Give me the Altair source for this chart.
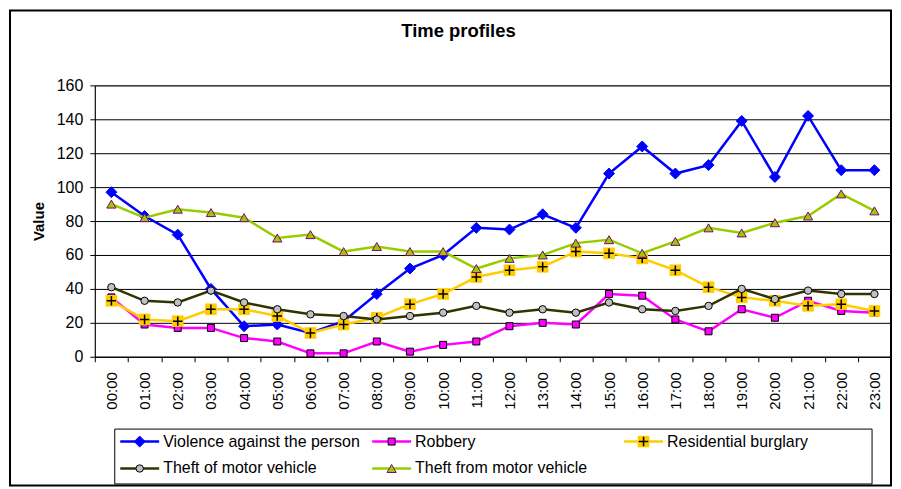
import altair as alt
import pandas as pd

hours = ["00:00", "01:00", "02:00", "03:00", "04:00", "05:00", "06:00", "07:00",
         "08:00", "09:00", "10:00", "11:00", "12:00", "13:00", "14:00", "15:00",
         "16:00", "17:00", "18:00", "19:00", "20:00", "21:00", "22:00", "23:00"]

series_names = ["Violence against the person", "Robbery", "Residential burglary",
                "Theft of motor vehicle", "Theft from motor vehicle"]

violence = [97, 83, 72, 40, 18, 19, 14, 21, 37, 52, 60, 76, 75, 84, 76, 108, 124, 108, 113, 139, 106, 142, 110, 110]
robbery = [35, 19, 17, 17, 11, 9, 2, 2, 9, 3, 7, 9, 18, 20, 19, 37, 36, 22, 15, 28, 23, 33, 27, 26]
burglary = [33, 22, 21, 28, 28, 24, 14, 19, 23, 31, 37, 47, 51, 53, 62, 61, 58, 51, 41, 35, 33, 30, 31, 27]
theft_of = [41, 33, 32, 39, 32, 28, 25, 24, 22, 24, 26, 30, 26, 28, 26, 32, 28, 27, 30, 40, 34, 39, 37, 37]
theft_from = [90, 82, 87, 85, 82, 70, 72, 62, 65, 62, 62, 52, 58, 60, 67, 69, 61, 68, 76, 73, 79, 83, 96, 86]

y_ticks = [0, 20, 40, 60, 80, 100, 120, 140, 160]

all_values = [violence, robbery, burglary, theft_of, theft_from]
rows = []
for name, vals in zip(series_names, all_values):
    for h, v in zip(hours, vals):
        rows.append({"hour": h, "series": name, "value": v})
df = pd.DataFrame(rows)

FONT = "Liberation Sans"
PW, PH = 798, 272

# style per series: line colour, marker shape, fill, stroke, size
styles = {
    "Violence against the person": dict(line="#0000FF", shape="diamond", fill="#0000FF", stroke="#0000FF", size=120, sw=1),
    "Robbery": dict(line="#FF00FF", shape="square", fill="#FF00FF", stroke="#000000", size=49, sw=1),
    "Residential burglary": dict(line="#FFCC00", shape="square", fill="#FFCC00", stroke="#FFCC00", size=135, sw=0),
    "Theft of motor vehicle": dict(line="#333300", shape="circle", fill="#C0C0C0", stroke="#000000", size=55, sw=1),
    "Theft from motor vehicle": dict(line="#99CC00", shape="triangle-up", fill="#99CC00", stroke="#800080", size=85, sw=1),
}
CROSS = "M-1,0L1,0M0,-1L0,1"

x_enc = alt.X("hour:N", sort=hours,
              scale=alt.Scale(domain=hours, paddingInner=0, paddingOuter=0),
              axis=alt.Axis(title=None, labelAngle=-90, tickBand="extent", grid=False,
                            labelFontSize=15, labelPadding=10, tickSize=5,
                            domainColor="#000000", tickColor="#000000", labelColor="#000000"))
y_enc = alt.Y("value:Q", scale=alt.Scale(domain=[0, 160], nice=False),
              axis=alt.Axis(values=y_ticks, title="Value", titleFontSize=15, titleFontWeight="bold",
                            titleColor="#000000", titlePadding=10, labelFontSize=16, labelPadding=7,
                            tickSize=5, grid=True, gridColor="#000000", gridWidth=1,
                            domainColor="#000000", tickColor="#000000", labelColor="#000000"))

base = alt.Chart(df)
one = pd.DataFrame({"k": [0]})

layers = []
# outer frame
layers.append(alt.Chart(one).mark_rect(filled=False, stroke="#000000", strokeWidth=2).encode(
    x=alt.value(-85), x2=alt.value(PW), y=alt.value(-75), y2=alt.value(401)))
# title
layers.append(alt.Chart(one).mark_text(text="Time profiles", font=FONT, fontSize=18.5, fontWeight="bold",
                                       align="center", baseline="alphabetic", color="#000000").encode(
    x=alt.value(364.5), y=alt.value(-48)))

for name in series_names:
    s = styles[name]
    f = base.transform_filter(alt.datum.series == name)
    layers.append(f.mark_line(color=s["line"], strokeWidth=2.5).encode(x=x_enc, y=y_enc))
    layers.append(f.mark_point(shape=s["shape"], filled=True, fill=s["fill"], stroke=s["stroke"],
                               strokeWidth=s["sw"], size=s["size"], opacity=1).encode(x=x_enc, y=y_enc))
    if name == "Residential burglary":
        layers.append(f.mark_point(shape=CROSS, filled=False, stroke="#000000", strokeWidth=1.5,
                                   size=90, opacity=1).encode(x=x_enc, y=y_enc))

main = alt.layer(*layers).properties(width=PW, height=PH,
                                     view=alt.ViewBackground(stroke="#808080", strokeWidth=1))

# legend
leg_df = pd.DataFrame({"series": series_names, "col": [0, 1, 2, 0, 1], "row": [0, 0, 0, 1, 1]})
lx = alt.X("col:Q", scale=alt.Scale(domain=[0, 3], range=[6, 763.5]), axis=None)
ly = alt.Y("row:Q", scale=alt.Scale(domain=[0, 1], range=[13, 40]), axis=None)
leg_base = alt.Chart(leg_df)
leg_layers = []
for name in series_names:
    s = styles[name]
    f = leg_base.transform_filter(alt.datum.series == name)
    leg_layers.append(f.mark_rule(color=s["line"], strokeWidth=2.5, x2Offset=39).encode(
        x=lx, x2=alt.X2("col:Q"), y=ly))
    leg_layers.append(f.mark_point(shape=s["shape"], filled=True, fill=s["fill"], stroke=s["stroke"],
                                   strokeWidth=s["sw"], size=s["size"], opacity=1, xOffset=19.5).encode(x=lx, y=ly))
    if name == "Residential burglary":
        leg_layers.append(f.mark_point(shape=CROSS, filled=False, stroke="#000000", strokeWidth=1.5,
                                       size=90, opacity=1, xOffset=19.5).encode(x=lx, y=ly))
leg_layers.append(leg_base.mark_text(align="left", baseline="middle", dx=43, font=FONT, fontSize=16,
                                     color="#000000").encode(x=lx, y=ly, text="series:N"))
legend = alt.layer(*leg_layers).properties(width=759, height=55,
                                           view=alt.ViewBackground(stroke="#000000", strokeWidth=1))

chart = alt.vconcat(main, legend, spacing=72, center=True, bounds="flush").properties(
    padding=0, background="white"
).configure_axis(labelFont=FONT, titleFont=FONT)

chart.save("out.html", embed_options={"renderer": "svg", "actions": False})
